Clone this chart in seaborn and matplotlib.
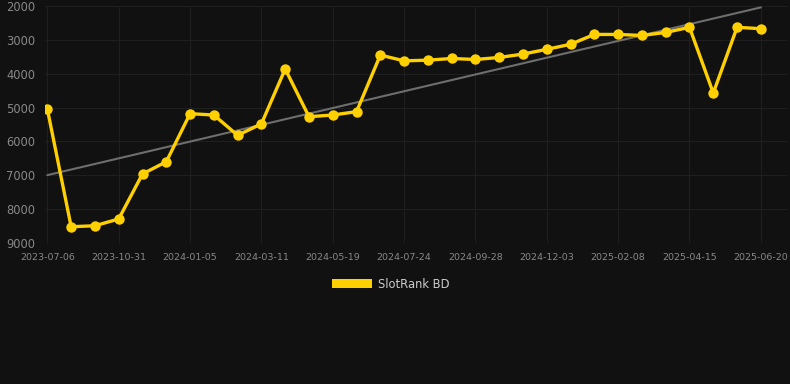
import numpy as np
import pandas as pd
import matplotlib.pyplot as plt
import seaborn as sns
from matplotlib.patches import Patch

# Data
dates = [
    "2023-07-06", "2023-08-14", "2023-09-22", "2023-10-31", "2023-11-22", "2023-12-14",
    "2024-01-05", "2024-01-27", "2024-02-18", "2024-03-11", "2024-04-02", "2024-04-26",
    "2024-05-19", "2024-06-10", "2024-07-02", "2024-07-24", "2024-08-15", "2024-09-06",
    "2024-09-28", "2024-10-20", "2024-11-11", "2024-12-03", "2024-12-25", "2025-01-17",
    "2025-02-08", "2025-03-02", "2025-03-24", "2025-04-15", "2025-05-07", "2025-05-29",
    "2025-06-20",
]
ranks = [
    5050, 8520, 8490, 8290, 6960, 6600, 5180, 5220, 5820, 5480, 3860, 5270,
    5220, 5120, 3450, 3620, 3600, 3550, 3580, 3520, 3420, 3280, 3130, 2840,
    2840, 2870, 2780, 2630, 4570, 2630, 2670,
]

df = pd.DataFrame({"date": dates, "rank": ranks})
df["idx"] = np.arange(len(df))

# linear trend over the series
coef = np.polyfit(df["idx"], df["rank"], 1)
df["trend"] = np.polyval(coef, df["idx"])

bg = "#111111"
gold = "#FFD000"
sns.set_style("dark")
plt.rcParams["font.family"] = ["DejaVu Sans"]

fig = plt.figure(figsize=(7.9, 3.84), dpi=100, facecolor=bg)
ax = fig.add_axes([45 / 790, 1 - 243 / 384, 742 / 790, 237 / 384])
ax.set_facecolor(bg)

sns.lineplot(data=df, x="idx", y="trend", color="#6e6e6e", linewidth=1.5, ax=ax)
sns.lineplot(data=df, x="idx", y="rank", color=gold, linewidth=2.4,
             marker="o", markersize=7.5, markeredgewidth=0, ax=ax)

ax.set_ylim(9000, 2000)
ax.set_xlim(-0.1, 31.1)
ax.set_yticks(range(2000, 9001, 1000))
ax.set_xticks(df["idx"][::3])
ax.set_xticklabels(df["date"][::3])
ax.tick_params(axis="x", colors="#888888", labelsize=6.8, length=0, pad=7)
ax.tick_params(axis="y", colors="#888888", labelsize=8.3, length=0, pad=7)
ax.grid(True, color="#1f1f1f", linewidth=0.8)
ax.set_xlabel("")
ax.set_ylabel("")
for s in ax.spines.values():
    s.set_visible(False)

leg = ax.legend(handles=[Patch(facecolor=gold, edgecolor="none", label="SlotRank BD")],
                loc="upper center", bbox_to_anchor=(0.466, -0.103), frameon=False,
                fontsize=8.3, handlelength=3.5, handleheight=0.85, handletextpad=0.5)
for t in leg.get_texts():
    t.set_color("#cccccc")

fig.savefig("out.png", dpi=100, facecolor=bg)
